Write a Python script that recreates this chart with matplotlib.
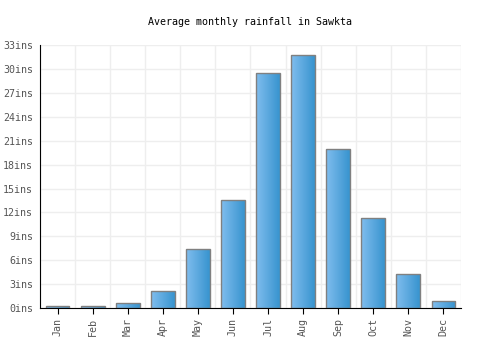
import matplotlib
matplotlib.use('Agg')
import matplotlib.pyplot as plt
import numpy as np
from matplotlib.colors import LinearSegmentedColormap

months = ['Jan', 'Feb', 'Mar', 'Apr', 'May', 'Jun', 'Jul', 'Aug', 'Sep', 'Oct', 'Nov', 'Dec']
rainfall = [0.25, 0.25, 0.6, 2.1, 7.4, 13.5, 29.5, 31.8, 19.9, 11.3, 4.3, 0.9]
yticks = list(range(0, 34, 3))

plt.rcParams['font.family'] = ['DejaVu Sans Mono']

fig = plt.figure(figsize=(5, 3.5), dpi=100)
ax = fig.add_axes([0.08, 0.12, 0.842, 0.751])

cmap = LinearSegmentedColormap.from_list('bar', ['#80bdee', '#3894cf'])
grad = np.linspace(0, 1, 64).reshape(1, -1)
x = np.arange(len(months))
width = 0.68

bars = ax.bar(x, rainfall, width=width, facecolor='none', edgecolor='#808080',
              linewidth=1, zorder=3)
for b in bars:
    x0, y0 = b.get_x(), b.get_y()
    im = ax.imshow(grad, extent=[x0, x0 + b.get_width(), y0, y0 + b.get_height()],
                   cmap=cmap, aspect='auto', zorder=2, interpolation='bilinear')
    im.set_clip_path(b)

ax.set_xlim(-0.5, len(months) - 0.5)
ax.set_ylim(0, 33)
ax.set_xticks(x)
ax.set_xticklabels(months, rotation=90, fontsize=7.2, color='#555555')
ax.set_yticks(yticks)
ax.set_yticklabels([f'{v}ins' for v in yticks], fontsize=7.2, color='#555555')

ax.set_xticks(np.arange(-0.5, len(months), 1), minor=True)
ax.grid(True, which='minor', axis='x', color='#eeeeee', linewidth=1, zorder=0)
ax.grid(True, which='major', axis='y', color='#eeeeee', linewidth=1, zorder=0)
ax.tick_params(axis='x', which='minor', length=0)
ax.tick_params(axis='x', which='major', length=4, color='#000000')
ax.tick_params(axis='y', length=0, pad=5)
ax.set_axisbelow(True)

for s in ['top', 'right']:
    ax.spines[s].set_visible(False)
ax.spines['left'].set_color('black')
ax.spines['bottom'].set_color('black')

fig.text(0.5, 0.937, 'Average monthly rainfall in Sawkta', ha='center', va='center',
         fontsize=7.2, color='#000000')

fig.savefig('out.png', dpi=100)
